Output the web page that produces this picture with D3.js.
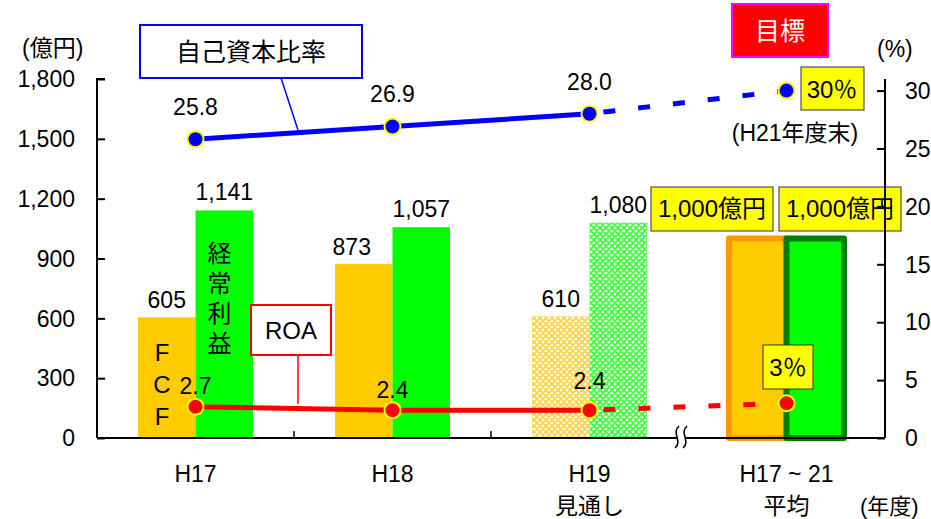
<!DOCTYPE html>
<html><head><meta charset="utf-8">
<script src="https://cdn.jsdelivr.net/npm/d3@7"></script>
<style>
html,body{margin:0;padding:0;background:#fff;}
svg text{font-family:"Liberation Sans","Noto Sans CJK JP",Arial,sans-serif;fill:#000;}
</style></head>
<body>
<svg id="chart" width="931" height="519"></svg>
<script>
// ---- data ----
const categories = ["H17", "H18", "H19", "H17～21"];
const categoryLines = [["H17"], ["H18"], ["H19", "見通し"], ["H17 ~ 21", "平均"]];
const fcf = [605, 873, 610, 1000];
const ordinaryProfit = [1141, 1057, 1080, 1000];
const equityRatio = [25.8, 26.9, 28.0, 30];
const equityLabels = ["25.8", "26.9", "28.0", "30％"];
const roa = [2.7, 2.4, 2.4, 3];
const roaLabels = ["2.7", "2.4", "2.4", "3％"];
const leftTicks = [0, 300, 600, 900, 1200, 1500, 1800];
const rightTicks = [0, 5, 10, 15, 20, 25, 30];
const targetLabel = "1,000億円";

const svg = d3.select("#chart");
const L = 97, R = 885, B = 438, T = 79;

const x0 = d3.scaleBand().domain(categories).range([L, R]).padding(0);
const bw = x0.bandwidth();
const x1 = d3.scaleBand().domain(["fcf", "profit"]).range([41, 156]).padding(0);
const yL = d3.scaleLinear().domain([0, 1800]).range([B, T]);
const yR = d3.scaleLinear().domain([0, 31]).range([B, T]);
const cx = c => x0(c) + bw / 2;

// patterns
const defs = svg.append("defs");
function hatch(id, color) {
  const p = defs.append("pattern").attr("id", id).attr("width", 6).attr("height", 6)
    .attr("patternUnits", "userSpaceOnUse");
  p.append("rect").attr("width", 6).attr("height", 6).attr("fill", "#fff");
  p.append("path").attr("d", "M0,0 L6,6 M6,0 L0,6 M-1,5 L1,7 M5,-1 L7,1")
    .attr("stroke", color).attr("stroke-width", 1.6);
}
hatch("hOrange", "#FFD040");
hatch("hGreen", "#33FF33");

// bars
const fcfFill = i => i === 2 ? "url(#hOrange)" : "#FFCC00";
const prFill = i => i === 2 ? "url(#hGreen)" : "#00FF00";
categories.forEach((c, i) => {
  const target = i === 3;
  [["fcf", fcf[i], fcfFill(i), "#FF9900"], ["profit", ordinaryProfit[i], prFill(i), "#008000"]].forEach(([k, v, f, s]) => {
    const r = svg.append("rect")
      .attr("x", x0(c) + x1(k)).attr("width", x1.bandwidth())
      .attr("y", yL(v)).attr("height", B - yL(v))
      .attr("fill", f);
    if (target) r.attr("stroke", s).attr("stroke-width", 6).attr("stroke-linejoin", "round");
  });
});

// bar value labels
categories.forEach((c, i) => {
  if (i === 3) return;
  svg.append("text").attr("x", x0(c) + x1("fcf") + x1.bandwidth() / 2 - (i === 1 ? 12 : 0)).attr("y", yL(fcf[i]) - 9)
    .attr("text-anchor", "middle").attr("font-size", 23).text(d3.format(",")(fcf[i]));
  svg.append("text").attr("x", x0(c) + x1("profit") + x1.bandwidth() / 2).attr("y", yL(ordinaryProfit[i]) - 10)
    .attr("text-anchor", "middle").attr("font-size", 23).text(d3.format(",")(ordinaryProfit[i]));
});

// vertical labels in H17 bars
const fcfChars = ["F", "C", "F"];
fcfChars.forEach((ch, j) => svg.append("text").attr("x", x0(categories[0]) + x1("fcf") + 24)
  .attr("y", 361 + j * 32).attr("text-anchor", "middle").attr("font-size", 24).text(ch));
const profitChars = ["経", "常", "利", "益"];
profitChars.forEach((ch, j) => svg.append("text").attr("x", x0(categories[0]) + x1("profit") + 24)
  .attr("y", 262 + j * 30).attr("text-anchor", "middle").attr("font-size", 24).text(ch));

// target boxes "1,000億円"
["fcf", "profit"].forEach((k, j) => {
  const bx = [651, 779][j];
  svg.append("rect").attr("x", bx).attr("y", 187).attr("width", 122).attr("height", 44)
    .attr("fill", "#FFFF00").attr("stroke", "#333").attr("stroke-width", 1);
  svg.append("text").attr("x", bx + 61).attr("y", 217).attr("text-anchor", "middle")
    .attr("font-size", 24).text(targetLabel);
});

// axes
const gL = svg.append("g").attr("transform", `translate(${L},0)`)
  .call(d3.axisRight(yL).tickValues(leftTicks).tickSize(8).tickFormat(() => ""));
gL.selectAll("path,line").attr("stroke", "#000").attr("stroke-width", 2);
gL.select(".domain").attr("d", `M8,${T}H0V${B}`);
leftTicks.forEach(t => svg.append("text").attr("x", 75).attr("y", yL(t)).attr("dy", "0.36em")
  .attr("text-anchor", "end").attr("font-size", 23).text(d3.format(",")(t)));

const gR = svg.append("g").attr("transform", `translate(${R},0)`)
  .call(d3.axisLeft(yR).tickValues(rightTicks).tickSize(8).tickFormat(() => ""));
gR.selectAll("path,line").attr("stroke", "#000").attr("stroke-width", 2);
gR.select(".domain").attr("d", `M0,${T}V${B}`);
rightTicks.forEach(t => svg.append("text").attr("x", 905).attr("y", yR(t)).attr("dy", "0.36em")
  .attr("font-size", 23).text(t));

// bottom axis
svg.append("line").attr("x1", L).attr("x2", R).attr("y1", B).attr("y2", B)
  .attr("stroke", "#000").attr("stroke-width", 2);
categories.slice(1, 3).forEach(c => svg.append("line").attr("x1", x0(c)).attr("x2", x0(c))
  .attr("y1", B).attr("y2", B - 7).attr("stroke", "#000").attr("stroke-width", 1.5));
// break mark
const bxm = x0(categories[3]) - 7;
svg.append("rect").attr("x", bxm - 4).attr("y", B - 3).attr("width", 8).attr("height", 6).attr("fill", "#fff");
[-4, 4].forEach(o => svg.append("path")
  .attr("d", `M${bxm + o + 2},${B - 12} C${bxm + o - 6},${B - 5} ${bxm + o + 6},${B + 3} ${bxm + o - 2},${B + 10}`)
  .attr("fill", "none").attr("stroke", "#000").attr("stroke-width", 1.6));

// category labels
categoryLines.forEach((lines, i) => lines.forEach((s, j) => svg.append("text")
  .attr("x", cx(categories[i])).attr("y", 482 + j * 32).attr("text-anchor", "middle")
  .attr("font-size", 23).text(s)));
svg.append("text").attr("x", 860).attr("y", 514).attr("font-size", 22).text("(年度)");
svg.append("text").attr("x", 22).attr("y", 56).attr("font-size", 23).text("(億円)");
svg.append("text").attr("x", 877).attr("y", 57).attr("font-size", 23).text("(%)");

// lines
function series(vals, color) {
  const pts = categories.map((c, i) => [cx(c), yR(vals[i])]);
  svg.append("path").attr("d", d3.line()(pts.slice(0, 3))).attr("fill", "none")
    .attr("stroke", color).attr("stroke-width", 5);
  svg.append("path").attr("d", d3.line()(pts.slice(2))).attr("fill", "none")
    .attr("stroke", color).attr("stroke-width", 5).attr("stroke-dasharray", "12,23")
    .attr("stroke-dashoffset", -14);
  pts.forEach(p => svg.append("circle").attr("cx", p[0]).attr("cy", p[1]).attr("r", 8)
    .attr("fill", color).attr("stroke", "#FFFF00").attr("stroke-width", 2));
  return pts;
}
const bp = series(equityRatio, "#0000FF");
const rp = series(roa, "#FF0000");
bp.slice(0, 3).forEach((p, i) => svg.append("text").attr("x", p[0]).attr("y", p[1] - 24)
  .attr("text-anchor", "middle").attr("font-size", 23).text(equityLabels[i]));
rp.slice(0, 3).forEach((p, i) => svg.append("text").attr("x", p[0]).attr("y", [394, 398, 389][i])
  .attr("text-anchor", "middle").attr("font-size", 23).text(roaLabels[i]));

// 30% box
svg.append("rect").attr("x", 801).attr("y", 67).attr("width", 63).attr("height", 43)
  .attr("fill", "#FFFF00").attr("stroke", "#333").attr("stroke-width", 1);
svg.append("text").attr("x", 832).attr("y", 98).attr("text-anchor", "middle").attr("font-size", 24).text(equityLabels[3]);
svg.append("text").attr("x", 795).attr("y", 141).attr("text-anchor", "middle").attr("font-size", 23).text("(H21年度末)");
// 3% box
svg.append("rect").attr("x", 763).attr("y", 345).attr("width", 50).attr("height", 44)
  .attr("fill", "#FFFF00").attr("stroke", "#333").attr("stroke-width", 1);
svg.append("text").attr("x", 788).attr("y", 376).attr("text-anchor", "middle").attr("font-size", 24).text(roaLabels[3]);

// 目標 box
svg.append("rect").attr("x", 732).attr("y", 4).attr("width", 96).attr("height", 53)
  .attr("fill", "#FF0000").attr("stroke", "#FF00FF").attr("stroke-width", 2);
svg.append("text").attr("x", 780).attr("y", 40).attr("text-anchor", "middle").attr("font-size", 25)
  .style("fill", "#fff").text("目標");

// legend callouts
svg.append("line").attr("x1", 281).attr("y1", 78).attr("x2", 298).attr("y2", 130)
  .attr("stroke", "#0000FF").attr("stroke-width", 1.5);
svg.append("rect").attr("x", 140).attr("y", 25).attr("width", 222).attr("height", 53)
  .attr("fill", "#fff").attr("stroke", "#0000FF").attr("stroke-width", 2);
svg.append("text").attr("x", 251).attr("y", 61).attr("text-anchor", "middle").attr("font-size", 25).text("自己資本比率");

svg.append("line").attr("x1", 298).attr("y1", 355).attr("x2", 298).attr("y2", 404)
  .attr("stroke", "#FF0000").attr("stroke-width", 1.5);
svg.append("rect").attr("x", 251).attr("y", 305).attr("width", 80).attr("height", 50)
  .attr("fill", "#fff").attr("stroke", "#FF0000").attr("stroke-width", 2);
svg.append("text").attr("x", 291).attr("y", 339).attr("text-anchor", "middle").attr("font-size", 24).text("ROA");
</script>
</body></html>
